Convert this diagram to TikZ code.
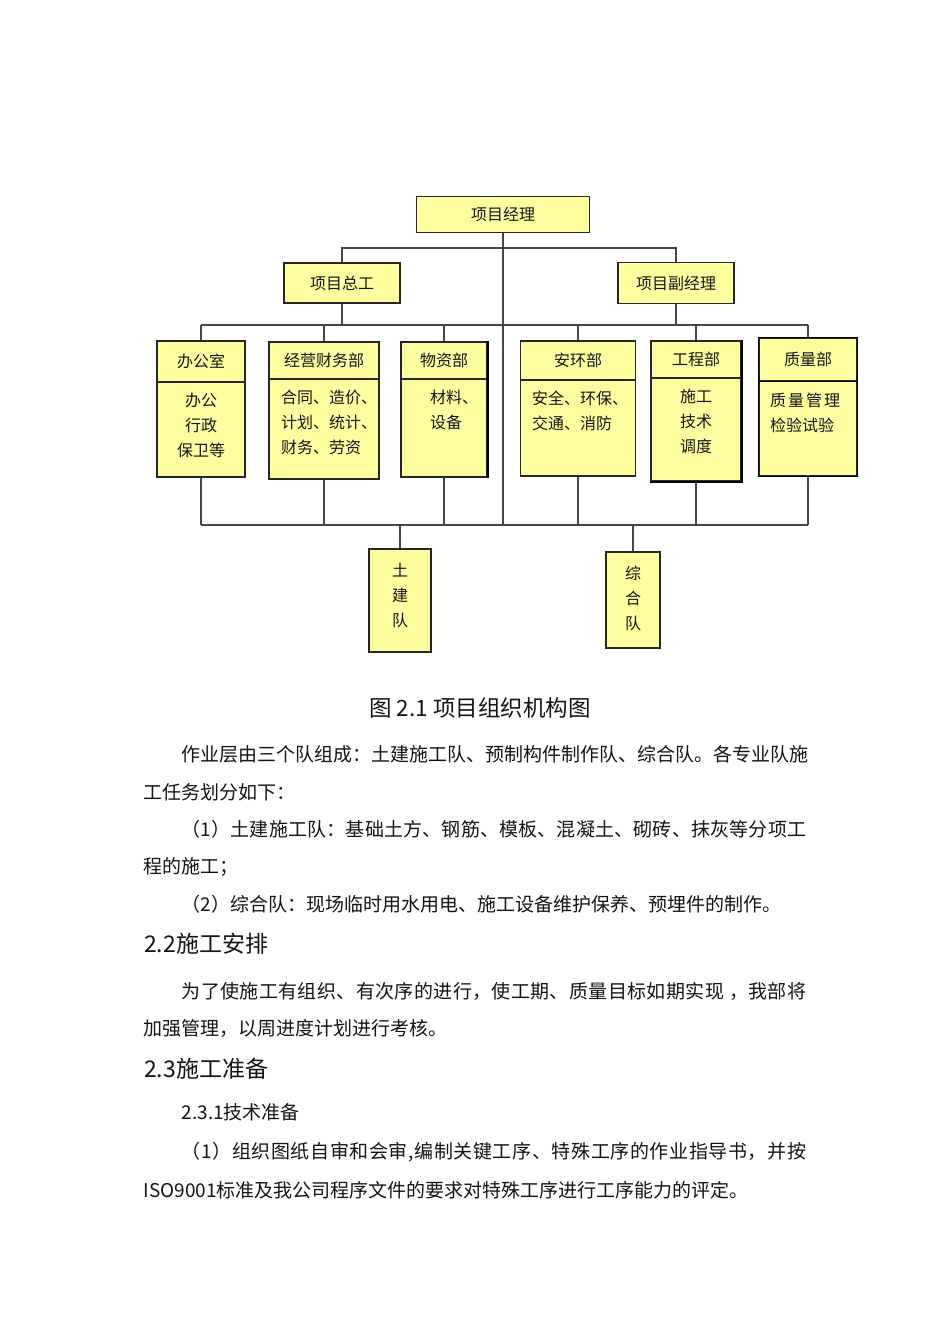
\documentclass[tikz,border=0pt]{standalone}
\usepackage{fontspec}
\setmainfont{Noto Sans CJK SC}
\definecolor{boxy}{RGB}{255,255,160}
\definecolor{linegray}{RGB}{70,70,70}
\definecolor{txt}{RGB}{20,20,20}
\def\spreadEnd{SPREADEND}
\def\spreadA#1{\ifx#1\spreadEnd\else#1\expandafter\spreadB\fi}
\def\spreadB#1{\ifx#1\spreadEnd\else\hfil#1\expandafter\spreadB\fi}
\newcommand{\fullline}[1]{\hbox to 624.5pt{\spreadA#1\spreadEnd}}
\begin{document}
\begin{tikzpicture}[x=1pt,y=-1pt,
  box/.style={draw=black!85, fill=boxy, line width=1.1pt, inner sep=0pt, rectangle},
  conn/.style={draw=linegray, line width=1.1pt},
  lbl/.style={font=\fontsize{16}{25}\selectfont, inner sep=0pt, text=txt},
  para/.style={font=\fontsize{19}{24}\selectfont, inner sep=0pt, anchor=west, text=txt},
  head/.style={font=\fontsize{23}{27}\selectfont, inner sep=0pt, anchor=west, text=txt}]
\useasboundingbox[fill=white] (0,0) rectangle (950,1344);

% top level
\node[box, lbl, minimum width=173pt, minimum height=36pt] (pm) at (503,214.5) {项目经理};
\node[box, lbl, minimum width=116pt, minimum height=40pt] (zg) at (342,283) {项目总工};
\node[box, lbl, minimum width=116pt, minimum height=41pt] (fj) at (676,283) {项目副经理};

% departments: header + body
\node[box, lbl, minimum width=88pt, minimum height=41pt] (bgsh) at (201,361.5) {办公室};
\node[box, minimum width=88pt, minimum height=95pt] (bgsb) at (201,429.5) {};
\node[box, lbl, minimum width=110pt, minimum height=37pt] (jyh) at (324,360.5) {经营财务部};
\node[box, minimum width=110pt, minimum height=100pt] (jyb) at (324,429) {};
\node[box, lbl, minimum width=86pt, minimum height=37pt] (wzh) at (444,360.5) {物资部};
\node[box, minimum width=86pt, minimum height=98pt] (wzb) at (444,428) {};
\node[box, lbl, minimum width=115pt, minimum height=39pt] (ahh) at (578,360.5) {安环部};
\node[box, minimum width=115pt, minimum height=96pt] (ahb) at (578,428) {};
\node[box, lbl, minimum width=90pt, minimum height=37pt] (gch) at (696,359.5) {工程部};
\node[box, minimum width=90pt, minimum height=103pt] (gcb) at (696,429.5) {};
\node[box, lbl, minimum width=98pt, minimum height=43pt] (zlh) at (808,359.5) {质量部};
\node[box, minimum width=98pt, minimum height=95pt] (zlb) at (808,428.5) {};

% heavier right/bottom edges
\draw[black, line width=2pt] ([xshift=0.6pt]gch.north east) -- ([xshift=0.6pt,yshift=-0.6pt]gcb.south east) -- ([yshift=-0.6pt]gcb.south west);
\draw[black, line width=1.8pt] ([xshift=0.5pt]wzh.north east) -- ([xshift=0.5pt]wzb.south east);
\draw[black, line width=1.5pt] (zlh.north west) rectangle (zlb.south east);
\draw[black, line width=1.5pt] (zlh.south west) -- (zlh.south east);

% body texts
\node[lbl, align=center] (bgst) at (201,425) {办公\\行政\\保卫等};
\node[lbl, align=left, anchor=west] (jyt) at (281,422) {合同、造价、\\计划、统计、\\财务、劳资};
\node[lbl, align=left, anchor=west] (wzt) at (430,409.5) {材料、\\设备};
\node[lbl, align=left, anchor=west] (aht) at (532,410.5) {安全、环保、\\交通、消防};
\node[lbl, align=center] (gct) at (696,421.5) {施工\\技术\\调度};
\node[lbl, align=left, anchor=west] (zlt) at (770,413) {质\hspace{2pt}量\hspace{2pt}管\hspace{2pt}理\\检验试验};

% teams
\node[box, minimum width=62pt, minimum height=103pt] (tj) at (400,600.5) {};
\node[lbl, align=center] (tjt) at (400,595) {土\\建\\队};
\node[box, minimum width=54pt, minimum height=96pt] (zh) at (633,600) {};
\node[lbl, align=center] (zht) at (633,598) {综\\合\\队};

% buses
\coordinate (tb) at (0,248);
\coordinate (ub) at (0,325);
\coordinate (bb) at (0,525);

\draw[conn] (zg.north) -- (zg.north |- tb) -- (fj.north |- tb) -- (fj.north);
\draw[conn] (pm.south) -- (pm.south |- bb);
\draw[conn] (zg.south) -- (zg.south |- ub);
\draw[conn] (fj.south) -- (fj.south |- ub);
\draw[conn] (bgsh.north |- ub) -- (zlh.north |- ub);
\foreach \n in {bgsh,jyh,wzh,ahh,gch,zlh} {
  \draw[conn] (\n.north |- ub) -- (\n.north);
}
\draw[conn] (bgsb.south |- bb) -- (zlb.south |- bb);
\foreach \n in {bgsb,jyb,wzb,ahb,gcb,zlb} {
  \draw[conn] (\n.south) -- (\n.south |- bb);
}
\draw[conn] (tj.north |- bb) -- (tj.north);
\draw[conn] (zh.north |- bb) -- (zh.north);

% caption and text
\node[font=\fontsize{22.5}{27}\selectfont, inner sep=0pt, text=txt] (cap) at (480,708) {图 2.1 项目组织机构图};
\node[para] (p1) at (181.5,754) {\fullline{作业层由三个队组成：土建施工队、预制构件制作队、综合队。各专业队施}};
\node[para] (p2) at (143.5,792) {工任务划分如下：};
\node[para] (p3) at (181.5,829) {\fullline{（1）土建施工队：基础土方、钢筋、模板、混凝土、砌砖、抹灰等分项工}};
\node[para] (p4) at (143.5,867) {程的施工；};
\node[para] (p5) at (181.5,904) {（2）综合队：现场临时用水用电、施工设备维护保养、预埋件的制作。};
\node[head] (h1) at (144,944) {2.2施工安排};
\node[para] (p6) at (181.5,991) {\fullline{为了使施工有组织、有次序的进行，使工期、质量目标如期实现\ ，我部将}};
\node[para] (p7) at (143.5,1028) {加强管理，以周进度计划进行考核。};
\node[head] (h2) at (144,1069) {2.3施工准备};
\node[para] (h3) at (181.5,1112) {2.3.1技术准备};
\node[para] (p8) at (181.5,1152) {\fullline{（1）组织图纸自审和会审,编制关键工序、特殊工序的作业指导书，并按}};
\node[para] (p9) at (143.5,1190) {ISO9001标准及我公司程序文件的要求对特殊工序进行工序能力的评定。};
\end{tikzpicture}
\end{document}
